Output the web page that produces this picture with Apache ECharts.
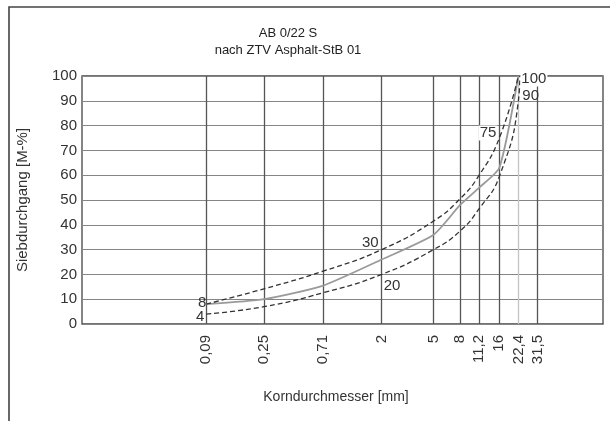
<!DOCTYPE html>
<html>
<head>
<meta charset="utf-8">
<script src="https://cdn.jsdelivr.net/npm/echarts@6/dist/echarts.min.js"></script>
<style>
  html, body { margin: 0; padding: 0; background: #fff; }
  #chart { width: 610px; height: 421px; }
</style>
</head>
<body>
<div id="chart"></div>
<script>
// Sieve sizes (mm) shown on the grain size axis, and their printed labels
const sieveSizes = [0.09, 0.25, 0.71, 2, 5, 8, 11.2, 16, 22.4, 31.5];
const sieveLabels = ['0,09', '0,25', '0,71', '2', '5', '8', '11,2', '16', '22,4', '31,5'];

// Upper grading limit (passing, M-%)
const upperX = [0.09, 0.25, 0.71, 2, 5, 8, 11.2, 16, 22.4];
const upperY = [8, 14.2, 21.3, 30, 41.5, 50.5, 60, 75, 100];

// Lower grading limit (passing, M-%)
const lowerX = [0.09, 0.25, 0.71, 2, 5, 8, 11.2, 16, 22.4, 23];
const lowerY = [4, 7, 12.6, 20, 30, 37.5, 46.5, 59.5, 90, 100];

// Grading curve of the mix
const mixX = [0.09, 0.25, 0.71, 2, 5, 8, 11.2, 16, 22.4];
const mixY = [8, 10, 15.5, 26, 36, 48, 55, 63, 100];

// Passing tick labels
const passTicks = [0, 10, 20, 30, 40, 50, 60, 70, 80, 90, 100];

const FONT = 'Liberation Sans, Arial, sans-serif';
const TEXT = '#333';

// Which points carry a value label, and where the label sits
const upperLabelAt = {
  0: { position: 'left', distance: -1, offset: [0, -1] },
  3: { position: 'left', distance: 2, offset: [0, -7] },
  7: { position: 'left', distance: 2, offset: [0, -5], backgroundColor: '#fff' },
  8: { position: 'right', distance: 2, offset: [0, 3], backgroundColor: '#fff' }
};
const lowerLabelAt = {
  0: { position: 'left', distance: 1, offset: [0, 3] },
  3: { position: 'right', distance: 1, offset: [0, 11] },
  8: { position: 'right', distance: 3, offset: [0, -5] }
};

function buildData(xs, ys, labelAt) {
  return xs.map((x, i) => {
    const item = { value: [x, ys[i]] };
    if (labelAt && labelAt[i]) {
      item.label = Object.assign({
        show: true,
        formatter: p => String(p.value[1]),
        fontFamily: FONT,
        fontSize: 15,
        color: TEXT,
        padding: [0, 1]
      }, labelAt[i]);
    }
    return item;
  });
}

const logTicks = sieveSizes.map(v => Math.log10(v));
function sieveLabel(v) {
  const i = logTicks.findIndex(t => Math.abs(t - v) < 1e-6);
  return i >= 0 ? sieveLabels[i] : '';
}

// 22,4 grid line is drawn lighter than the others
const verticalColors = sieveSizes.map(s => (s === 22.4 ? '#c4c4c4' : '#555'));

const chart = echarts.init(document.getElementById('chart'), null, { renderer: 'canvas' });

const dashed = { color: '#333', width: 1.3, type: [5, 3] };

chart.setOption({
  animation: false,
  backgroundColor: '#fff',
  grid: {
    left: 82, right: 7, top: 76, bottom: 97,
    show: true, borderColor: '#444', borderWidth: 1.3, backgroundColor: 'transparent'
  },
  xAxis: [
    {
      // data axis (logarithmic grain size)
      type: 'log', logBase: 10, min: 0.01, max: 100,
      axisLine: { show: false }, axisTick: { show: false },
      axisLabel: { show: false }, splitLine: { show: false }
    },
    {
      // sieve grid lines and labels, placed on log10 positions
      type: 'value', min: -2, max: 2, position: 'bottom',
      axisLine: { show: false },
      axisTick: { show: false, customValues: logTicks },
      axisLabel: {
        customValues: logTicks,
        formatter: v => sieveLabel(v),
        rotate: 90, margin: 11,
        fontFamily: FONT, fontSize: 15, color: TEXT
      },
      splitLine: { show: true, lineStyle: { color: verticalColors, width: 1.3 } },
      name: 'Korndurchmesser [mm]',
      nameLocation: 'middle', nameGap: 66,
      nameTextStyle: { fontFamily: FONT, fontSize: 14, color: TEXT, padding: [0, 13, 0, 0] }
    }
  ],
  yAxis: {
    type: 'value', min: 0, max: 100, interval: 10,
    axisLine: { show: false }, axisTick: { show: false },
    axisLabel: {
      formatter: v => (passTicks.includes(v) ? String(v) : ''),
      margin: 5, fontFamily: FONT, fontSize: 15, color: TEXT
    },
    splitLine: { show: true, lineStyle: { color: '#858585', width: 1.2 } },
    name: 'Siebdurchgang [M-%]',
    nameLocation: 'middle', nameGap: 52,
    nameTextStyle: { fontFamily: FONT, fontSize: 15, color: TEXT }
  },
  graphic: [
    {
      type: 'polyline', silent: true,
      shape: { points: [[9, 421], [9, 7], [610, 7]] },
      style: { stroke: '#444', lineWidth: 1.6, fill: null }
    },
    {
      type: 'text', x: 288, y: 33,
      style: { text: 'AB 0/22 S', fontFamily: FONT, fontSize: 13, fill: '#222',
               align: 'center', verticalAlign: 'middle' }
    },
    {
      type: 'text', x: 288, y: 50,
      style: { text: 'nach ZTV Asphalt-StB 01', fontFamily: FONT, fontSize: 13, fill: '#222',
               align: 'center', verticalAlign: 'middle' }
    }
  ],
  series: [
    {
      name: 'Sieblinie', type: 'line', xAxisIndex: 0,
      data: buildData(mixX, mixY, null),
      symbol: 'none', smooth: 0.2,
      lineStyle: { color: '#9a9a9a', width: 1.8 }, z: 3
    },
    {
      name: 'Obergrenze', type: 'line', xAxisIndex: 0,
      data: buildData(upperX, upperY, upperLabelAt),
      symbol: 'circle', symbolSize: 0, showSymbol: true,
      smooth: 0.5,
      lineStyle: dashed, itemStyle: { color: '#333' }, z: 4
    },
    {
      name: 'Untergrenze', type: 'line', xAxisIndex: 0,
      data: buildData(lowerX, lowerY, lowerLabelAt),
      symbol: 'circle', symbolSize: 0, showSymbol: true,
      smooth: 0.5,
      lineStyle: dashed, itemStyle: { color: '#333' }, z: 4
    }
  ]
});
</script>
</body>
</html>
